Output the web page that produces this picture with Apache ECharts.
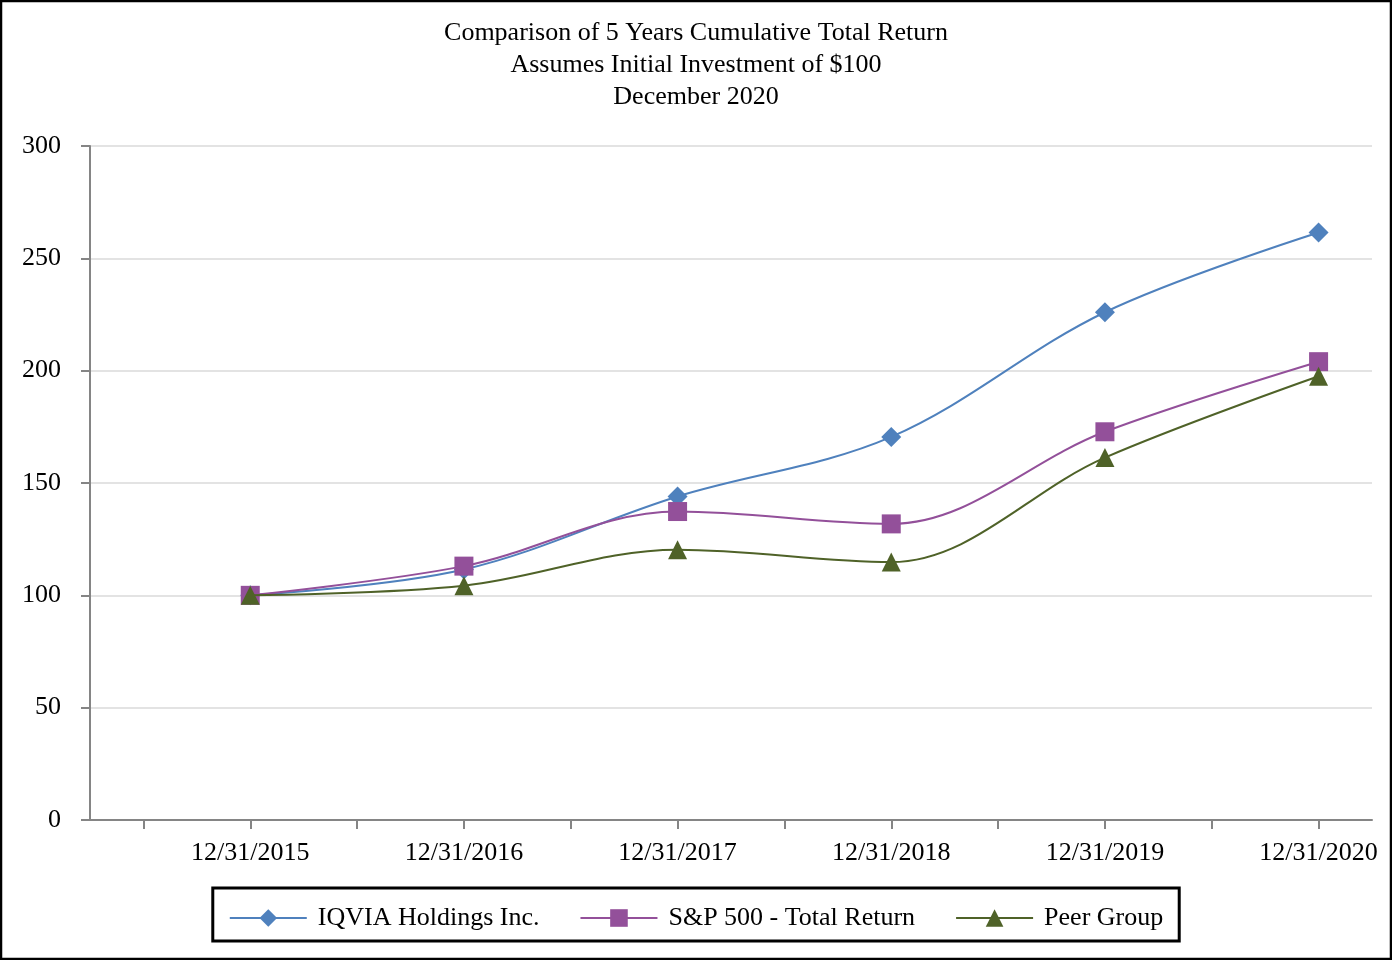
<!DOCTYPE html>
<html>
<head>
<meta charset="utf-8">
<script src="https://cdn.jsdelivr.net/npm/echarts@6/dist/echarts.min.js"></script>
<style>
html,body{margin:0;padding:0;background:#fff;}
#chart{width:1392px;height:960px;}
</style>
</head>
<body>
<div id="chart"></div>
<script>
const titleLines = ['Comparison of 5 Years Cumulative Total Return', 'Assumes Initial Investment of $100', 'December 2020'];
const categories = ['12/31/2015', '12/31/2016', '12/31/2017', '12/31/2018', '12/31/2019', '12/31/2020'];
const iqvia = [100, 111.5, 144, 170.5, 226, 261.5];
const sp500 = [100, 113, 137.3, 131.8, 172.8, 204];
const peer = [100, 104.3, 120.3, 114.8, 161.3, 197.5];
const yTicks = [0, 50, 100, 150, 200, 250, 300];

const FONT = '"Liberation Serif", "Times New Roman", serif';
const FS = 26;
const toPairs = arr => arr.map((v, i) => [i, v]);
const xTickVals = [];
for (let k = -1; k <= 10; k++) xTickVals.push(k / 2);

const chart = echarts.init(document.getElementById('chart'), null, {renderer: 'canvas'});
chart.setOption({
  animation: false,
  backgroundColor: '#fff',
  textStyle: {fontFamily: FONT},
  title: {
    text: titleLines.join('\n'),
    left: 'center',
    top: 12,
    textStyle: {fontFamily: FONT, fontSize: FS, fontWeight: 'normal', color: '#000', lineHeight: 32}
  },
  graphic: [{
    type: 'rect', shape: {x: 1, y: 1, width: 1390, height: 958},
    style: {fill: 'none', stroke: '#000', lineWidth: 2.5}, silent: true
  }],
  legend: {
    left: 'center',
    top: 888,
    padding: [17, 16, 10, 16],
    borderColor: '#000',
    borderWidth: 3,
    itemWidth: 77,
    itemHeight: 22,
    itemGap: 40,
    textStyle: {fontFamily: FONT, fontSize: FS, color: '#000', padding: [0, 0, 0, 6]},
    data: ['IQVIA Holdings Inc.', 'S&P 500 - Total Return', 'Peer Group']
  },
  grid: {left: 90, right: 20, top: 146, bottom: 140, containLabel: false},
  xAxis: {
    type: 'value',
    min: -0.75,
    max: 5.25,
    axisLine: {show: true, onZero: false, lineStyle: {color: '#858585', width: 2}},
    axisTick: {show: true, length: 9, customValues: xTickVals, lineStyle: {color: '#858585', width: 2}},
    axisLabel: {
      customValues: [0, 1, 2, 3, 4, 5],
      margin: 20,
      fontFamily: FONT, fontSize: FS, color: '#000',
      formatter: v => categories[Math.round(v)]
    },
    splitLine: {show: false}
  },
  yAxis: {
    type: 'value',
    min: 0,
    max: 300,
    interval: 50,
    axisLine: {show: true, onZero: false, lineStyle: {color: '#858585', width: 2}},
    axisTick: {show: true, length: 9, lineStyle: {color: '#858585', width: 2}},
    axisLabel: {
      margin: 29, fontFamily: FONT, fontSize: FS, color: '#000',
      customValues: yTicks
    },
    splitLine: {show: true, lineStyle: {color: '#e3e3e3', width: 2}}
  },
  series: [
    {
      name: 'IQVIA Holdings Inc.', type: 'line', smooth: 0.35,
      data: toPairs(iqvia),
      symbol: 'diamond', symbolSize: 20,
      itemStyle: {color: '#4F81BD'},
      lineStyle: {color: '#4F81BD', width: 2},
      z: 2
    },
    {
      name: 'S&P 500 - Total Return', type: 'line', smooth: 0.35,
      data: toPairs(sp500),
      symbol: 'rect', symbolSize: 19,
      itemStyle: {color: '#93509A'},
      lineStyle: {color: '#93509A', width: 2},
      z: 3
    },
    {
      name: 'Peer Group', type: 'line', smooth: 0.35,
      data: toPairs(peer),
      symbol: 'triangle', symbolSize: 19,
      itemStyle: {color: '#4F6228'},
      lineStyle: {color: '#4F6228', width: 2},
      z: 4
    }
  ]
});
</script>
</body>
</html>
